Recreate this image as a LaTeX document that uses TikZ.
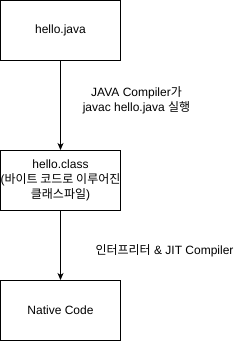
\documentclass[tikz,border=0pt]{standalone}
\usepackage{fontspec}
\setmainfont{Liberation Sans}
\newfontfamily\cjk{Noto Sans CJK KR}
\usetikzlibrary{arrows.meta}
\begin{document}
\begin{tikzpicture}[x=1pt,y=-1pt,
  box/.style={draw,line width=1pt,minimum width=120pt,minimum height=60pt,inner sep=0pt,align=center,font=\fontsize{12pt}{15pt}\selectfont},
  lbl/.style={align=center,inner sep=0pt,font=\fontsize{12pt}{15pt}\selectfont},
  conn/.style={line width=1pt,-{Stealth[length=7pt,width=6pt,inset=2pt]}}]
\useasboundingbox (0,0) rectangle (241,341);
\node[box] (java) at (60.5,30.5) {hello.java};
\node[box] (class) at (60.5,180.5) {hello.class\\({\cjk 바이트 코드로 이루어진}\\{\cjk 클래스파일})};
\node[box] (native) at (60.5,310.5) {Native Code};
\draw[conn] (java) -- (class);
\draw[conn] (class) -- (native);
\node[lbl] (l1) at (136.5,100) {JAVA Compiler{\cjk 가}\\javac hello.java {\cjk 실행}};
\node[lbl] (l2) at (164.5,250.5) {{\cjk 인터프리터} \& JIT Compiler};
\end{tikzpicture}
\end{document}
